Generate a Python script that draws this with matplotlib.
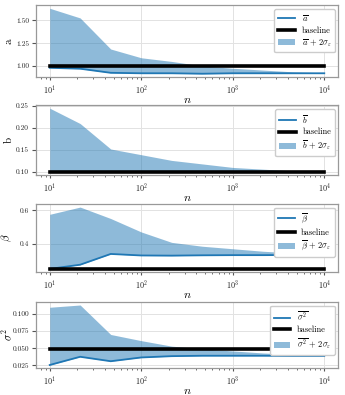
import numpy as np
import matplotlib
matplotlib.use("Agg")
import matplotlib.pyplot as plt

plt.rcParams.update({
    "font.family": "serif",
    "font.serif": ["cmr10", "DejaVu Serif"],
    "mathtext.fontset": "cm",
    "axes.formatter.use_mathtext": True,
    "font.size": 7,
    "axes.edgecolor": "#999999",
    "axes.linewidth": 0.9,
    "grid.color": "#e2e2e2",
    "grid.linewidth": 0.7,
    "xtick.labelsize": 5.8,
    "ytick.labelsize": 5.3,
    "xtick.major.size": 2.5,
    "xtick.minor.size": 1.5,
    "xtick.major.pad": 1.5,
    "ytick.major.size": 3,
    "ytick.major.pad": 2.0,
})

n = [10, 21.5, 46.4, 100, 215, 464, 1000, 2154, 4642, 10000]

a_mean = [0.98, 0.97, 0.925, 0.92, 0.92, 0.915, 0.92, 0.92, 0.92, 0.92]
a_upper = [1.633, 1.527, 1.186, 1.09, 1.05, 1.00, 0.975, 0.955, 0.935, 0.925]
a_base = 1.0

b_mean = [0.1, 0.1, 0.1, 0.1, 0.1, 0.1, 0.1, 0.1, 0.1, 0.1]
b_upper = [0.245, 0.21, 0.152, 0.139, 0.126, 0.118, 0.11, 0.106, 0.102, 0.101]
b_base = 0.1

beta_mean = [0.25, 0.275, 0.339, 0.33, 0.329, 0.331, 0.332, 0.332, 0.333, 0.332]
beta_upper = [0.575, 0.618, 0.55, 0.47, 0.408, 0.385, 0.37, 0.355, 0.345, 0.34]
beta_base = 0.25

s2_mean = [0.0255, 0.0375, 0.031, 0.0365, 0.0384, 0.039, 0.039, 0.039, 0.0388, 0.0388]
s2_upper = [0.1097, 0.113, 0.070, 0.061, 0.053, 0.049, 0.046, 0.043, 0.041, 0.040]
s2_base = 0.0485

panels = [
    ("a", a_mean, a_upper, a_base, r"$\overline{a}$", r"$\overline{a}\,+\,2\sigma_\varepsilon$", [1.0, 1.25, 1.5], "%.2f"),
    ("b", b_mean, b_upper, b_base, r"$\overline{b}$", r"$\overline{b}\,+\,2\sigma_\varepsilon$", [0.10, 0.15, 0.20, 0.25], "%.2f"),
    (r"$\beta$", beta_mean, beta_upper, beta_base, r"$\overline{\beta}$", r"$\overline{\beta}\,+\,2\sigma_\varepsilon$", [0.4, 0.6], "%.1f"),
    (r"$\sigma^2$", s2_mean, s2_upper, s2_base, r"$\overline{\sigma^2}$", r"$\overline{\sigma^2}\,+\,2\sigma_\varepsilon$", [0.025, 0.05, 0.075, 0.1], "%.3f"),
]

fig = plt.figure(figsize=(3.45, 3.95), dpi=100)
W, H = 345, 395
boxes = [(5, 77), (105, 175), (204, 272), (302, 368)]
for (ylab, mean, upper, base, lm, lf, yt, fmt), (top, bot) in zip(panels, boxes):
    ax = fig.add_axes([36 / W, 1 - bot / H, 302 / W, (bot - top) / H])
    ax.fill_between(n, mean, upper, color="#1f77b4", alpha=0.5, linewidth=0, label=lf)
    ax.plot(n, mean, color="#1f77b4", lw=1.3, label=lm)
    ax.plot([n[0], n[-1]], [base, base], color="black", lw=2.6, label="baseline")
    ax.set_xscale("log")
    ax.set_yticks(yt)
    ax.yaxis.set_major_formatter(matplotlib.ticker.FormatStrFormatter(fmt))
    ax.grid(True, which="major")
    ax.set_axisbelow(True)
    ax.set_xlabel(r"$n$", fontsize=8.5, labelpad=0)
    ax.set_ylabel(ylab, fontsize=8)
    ax.yaxis.set_label_coords(-0.074, 0.5)
    ax.tick_params(axis="both", which="both", colors="#555555", labelcolor="#222222")
    h, l = ax.get_legend_handles_labels()
    order = [1, 2, 0]
    ax.legend([h[i] for i in order], [l[i] for i in order], loc="upper right",
              fontsize=6, framealpha=1, edgecolor="#cccccc", handlelength=2.0,
              borderpad=0.45, labelspacing=0.3, borderaxespad=0,
              bbox_to_anchor=(0.99, 0.945))

fig.savefig("out.png", dpi=100)
